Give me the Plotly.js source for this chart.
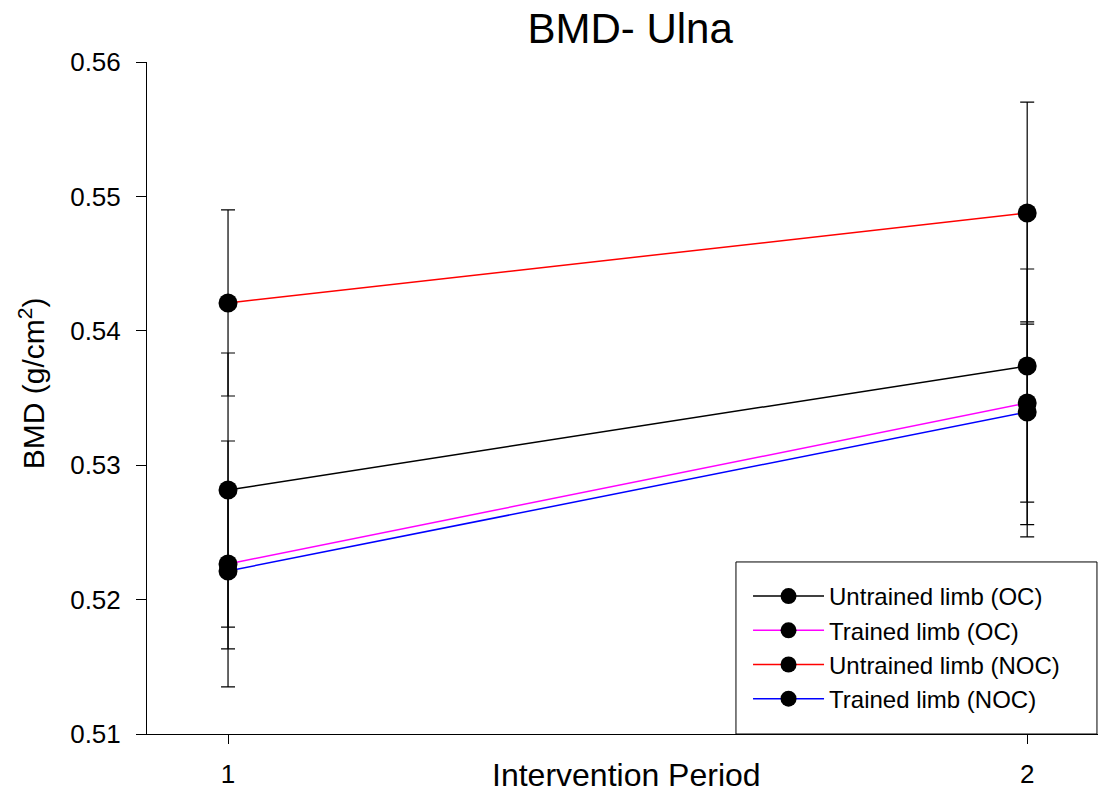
<!DOCTYPE html>
<html>
<head>
<meta charset="utf-8">
<script src="https://cdn.plot.ly/plotly-3.0.1.min.js"></script>
<style>html,body{margin:0;padding:0;overflow:hidden;background:#fff;}#chart{width:1098px;height:795px;}</style>
</head>
<body>
<div id="chart"></div>
<script>
const periods = [1, 2];
const seriesNames = ["Untrained limb (OC)", "Trained limb (OC)", "Untrained limb (NOC)", "Trained limb (NOC)"];
const untrainedOC = [0.52815, 0.53738];
const untrainedOCErr = [0.0102, 0.0118];
const trainedOC = [0.52265, 0.53463];
const trainedOCErr = [0.00915, 0.00997];
const untrainedNOC = [0.54207, 0.54876];
const untrainedNOCErr = [0.00692, 0.00826];
const trainedNOC = [0.52213, 0.53396];
const trainedNOCErr = [0.0058, 0.0067];
const seriesColors = ["#000000", "#ff00ff", "#ff0000", "#0000ff"];
const yTicks = [0.51, 0.52, 0.53, 0.54, 0.55, 0.56];
const yTickLabels = ["0.51", "0.52", "0.53", "0.54", "0.55", "0.56"];

const FONT = "Liberation Sans, Arial, Helvetica, sans-serif";
const values = [untrainedOC, trainedOC, untrainedNOC, trainedNOC];
const errs = [untrainedOCErr, trainedOCErr, untrainedNOCErr, trainedNOCErr];

const traces = values.map((v, i) => ({
  type: "scatter",
  mode: "lines+markers",
  name: seriesNames[i],
  x: periods,
  y: v,
  line: {color: seriesColors[i], width: 1.5},
  marker: {color: "#000000", size: 19, symbol: "circle"},
  error_y: {type: "data", array: errs[i], visible: true, color: "#000000", thickness: 1.2, width: 7}
}));

const layout = {
  width: 1098,
  height: 795,
  paper_bgcolor: "#ffffff",
  plot_bgcolor: "#ffffff",
  margin: {l: 147, r: 0, t: 62, b: 61},
  font: {family: FONT, color: "#000000"},
  title: {text: "BMD- Ulna", font: {family: FONT, size: 42, color: "#000000"}, x: 0.508, xref: "paper", xanchor: "center", y: 0.965, yref: "container", yanchor: "middle"},
  showlegend: true,
  legend: {
    x: 0.632, xanchor: "left", y: 0.2381, yanchor: "top",
    bgcolor: "rgba(0,0,0,0)", borderwidth: 0,
    font: {family: FONT, size: 24, color: "#000000"},
    itemwidth: 71
  },
  shapes: [{
    type: "rect", xref: "paper", yref: "paper",
    x0: 0.6193, x1: 0.9989, y0: 0, y1: 0.256,
    line: {color: "#000000", width: 1}, fillcolor: "#ffffff", layer: "above"
  }],
  xaxis: {
    range: [0.8986, 2.0886],
    tickvals: periods,
    ticktext: ["1", "2"],
    ticks: "outside", ticklen: 9, tickwidth: 1, tickcolor: "#000000",
    ticklabelstandoff: 8,
    showline: true, linecolor: "#000000", linewidth: 1,
    showgrid: false, zeroline: false,
    tickfont: {family: FONT, size: 26, color: "#000000"}
  },
  yaxis: {
    range: [0.51, 0.56],
    tickvals: yTicks,
    ticktext: yTickLabels,
    ticks: "outside", ticklen: 10, tickwidth: 1, tickcolor: "#000000",
    ticklabelstandoff: 10,
    showline: true, linecolor: "#000000", linewidth: 1,
    showgrid: false, zeroline: false,
    tickfont: {family: FONT, size: 26, color: "#000000"}
  },
  annotations: [{
    text: "Intervention Period", showarrow: false,
    xref: "paper", yref: "paper", x: 0.504, y: -0.061, xanchor: "center", yanchor: "middle",
    font: {family: FONT, size: 32, color: "#000000"}
  }, {
    text: "BMD (g/cm<sup>2</sup>)", showarrow: false, textangle: -90,
    xref: "paper", yref: "paper", x: -0.121, y: 0.522, xanchor: "center", yanchor: "middle",
    font: {family: FONT, size: 30, color: "#000000"}
  }]
};

Plotly.newPlot("chart", traces, layout, {displayModeBar: false, staticPlot: true});
</script>
</body>
</html>
